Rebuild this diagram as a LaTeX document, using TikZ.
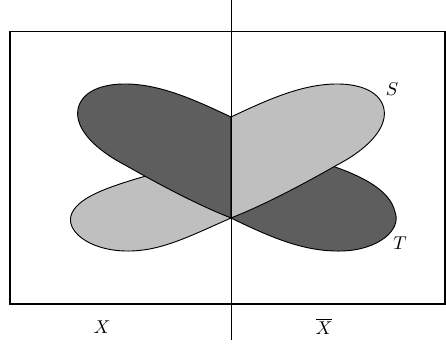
\documentclass[tikz,border=0pt]{standalone}
\usepackage{amsmath}
\usepackage{tikz}

\definecolor{darkpetal}{gray}{0.37}  % 深灰花瓣
\definecolor{lightpetal}{gray}{0.75} % 浅灰花瓣

\begin{document}
\begin{tikzpicture}[x=0.54pt, y=-0.54pt, line width=0.5pt] % 以像素为单位，y 轴向下
  \useasboundingbox (0,0) rectangle (446,344); % 固定整幅图的边界

  % ======= 关键点 =======
  \coordinate (O) at (231,218); % 中心交点
  \coordinate (N) at (231,117); % 上方缺口点

  % ======= 下方两片花瓣 (先画，被上方花瓣遮住) =======
  \filldraw[fill=lightpetal] (O) .. controls (190,236) and (160,252) .. (125,251)
    .. controls (88,250) and (64,230) .. (72,213)
    .. controls (80,196) and (110,186) .. (160,172) -- cycle; % 左下浅灰花瓣
  \filldraw[fill=darkpetal] (O) .. controls (272,238) and (305,252) .. (342,251)
    .. controls (378,250) and (402,230) .. (395,212)
    .. controls (390,190) and (362,175) .. (320,162) -- cycle; % 右下深灰花瓣

  % ======= 上方两片花瓣 =======
  \filldraw[fill=darkpetal] (N) .. controls (195,100) and (160,84) .. (125,84)
    .. controls (90,84) and (75,100) .. (78,118)
    .. controls (81,135) and (100,152) .. (125,165)
    .. controls (162,186) and (198,205) .. (O) -- cycle; % 左上深灰花瓣
  \filldraw[fill=lightpetal] (N) .. controls (267,100) and (302,84) .. (337,84)
    .. controls (372,84) and (387,100) .. (384,118)
    .. controls (381,135) and (362,152) .. (337,165)
    .. controls (300,186) and (264,205) .. (O) -- cycle; % 右上浅灰花瓣

  % ======= 外框与分界线 =======
  \draw[line width=0.6pt] (10,31.5) rectangle (445,304); % 外框
  \coordinate (Vt) at (231,0);   % 分界线上端
  \coordinate (Vb) at (231,340); % 分界线下端
  \draw[line width=0.4pt] (Vt) -- (Vb); % 竖直分界线

  % ======= 文字 =======
  \node (lS) at (392,89) {$S$}; % 集合 S
  \node (lT) at (400,243) {$T$}; % 集合 T
  \node (lX) at (102,327) {$X$}; % 左侧 X
  \node (lXb) at (324,326) {$\overline{X}$}; % 右侧 X 的补
\end{tikzpicture}
\end{document}
